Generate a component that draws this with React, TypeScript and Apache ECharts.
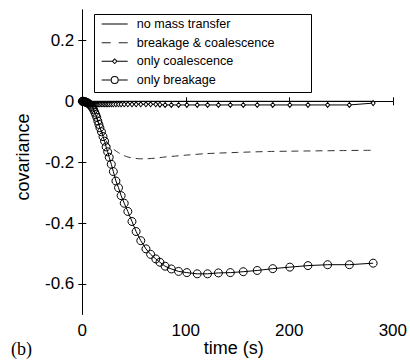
import React, { useEffect, useRef } from "react";
import * as echarts from "echarts";

// time grid shared by the "only" runs (s)
const timeGrid = [0, 0.5, 1, 1.5, 2, 2.5, 3, 3.5, 4, 5, 6, 7, 8, 9, 10, 11, 12, 13, 14, 15, 16, 17, 18.5, 20, 21.5, 23, 24.5, 26, 28, 30, 32.5, 35, 37.5, 40.5, 44, 48, 52, 56.5, 61.5, 66, 71, 75, 80, 86, 93, 101, 111, 121, 131.5, 143, 155.5, 169, 184, 200.5, 218, 237, 258, 281];

const onlyBreakage = [0, 0, 0, -0.001, -0.001, -0.002, -0.002, -0.003, -0.004, -0.005, -0.007, -0.01, -0.013, -0.017, -0.022, -0.028, -0.036, -0.044, -0.053, -0.065, -0.076, -0.087, -0.1, -0.116, -0.131, -0.15, -0.166, -0.184, -0.207, -0.231, -0.262, -0.284, -0.31, -0.335, -0.362, -0.395, -0.428, -0.458, -0.485, -0.503, -0.518, -0.529, -0.542, -0.551, -0.559, -0.563, -0.567, -0.567, -0.564, -0.563, -0.56, -0.556, -0.55, -0.545, -0.54, -0.537, -0.537, -0.532];

const onlyCoalescence = [0, -0.001, -0.002, -0.003, -0.004, -0.005, -0.006, -0.006, -0.007, -0.008, -0.008, -0.009, -0.009, -0.009, -0.01, -0.01, -0.01, -0.01, -0.01, -0.01, -0.01, -0.01, -0.01, -0.01, -0.01, -0.01, -0.01, -0.01, -0.01, -0.01, -0.01, -0.01, -0.01, -0.01, -0.01, -0.01, -0.01, -0.01, -0.01, -0.01, -0.01, -0.011, -0.012, -0.012, -0.012, -0.012, -0.012, -0.012, -0.012, -0.012, -0.012, -0.012, -0.012, -0.012, -0.012, -0.012, -0.012, -0.006];

const bcTime = [0, 5, 10, 15, 20, 25, 30, 35, 40, 45, 50, 55, 60, 70, 80, 90, 100, 120, 150, 180, 200, 250, 281];
const bcValues = [0, -0.005, -0.022, -0.065, -0.11, -0.14, -0.157, -0.169, -0.178, -0.184, -0.187, -0.189, -0.189, -0.187, -0.183, -0.18, -0.177, -0.172, -0.168, -0.165, -0.164, -0.162, -0.161];

const nmtTime = [0, 281];
const nmtValues = [0, 0];

const yTicks = [0.2, 0, -0.2, -0.4, -0.6];
const xTicks = [0, 100, 200, 300];

const legendNames = ["no mass transfer", "breakage & coalescence", "only coalescence", "only breakage"];

const FONT = "'Liberation Sans', Arial, Helvetica, sans-serif";

// legend icons (26 x 10 box): bounding dots at y=0 and y=10 keep the 1px strokes from being stretched
const BOUNDS = "M0,0h0.01v0.01h-0.01zM0,10h0.01v0.01h-0.01z";
const SOLID_ICON = "path://M0,4.5h26v1h-26z" + BOUNDS;
const DASHED_ICON = "path://M0,4.5h9v1h-9zM17,4.5h9v1h-9z" + BOUNDS;
const DIAMOND_ICON = "path://M0,4.5h10.5v1h-10.5zM15.5,4.5h10.5v1h-10.5zM13,2L16,5L13,8L10,5zM13,3.4L11.4,5L13,6.6L14.6,5z" + BOUNDS;
const CIRCLE_ICON = "path://M0,4.5h9v1h-9zM17,4.5h9v1h-9zM9,5A4,4 0 1,1 17,5A4,4 0 1,1 9,5zM10,5A3,3 0 1,0 16,5A3,3 0 1,0 10,5z" + BOUNDS;

const zip = (xs: number[], ys: number[]) => xs.map((x, i) => [x, ys[i]]);

export default function App() {
  const ref = useRef<HTMLDivElement>(null);
  useEffect(() => {
    if (!ref.current) return;
    const chart = echarts.init(ref.current, null, { renderer: "svg" });
    const axisLine = { show: true, lineStyle: { color: "#000", width: 1 } };
    const iconStyle = { color: "#000", borderWidth: 0 };
    chart.setOption({
      animation: false,
      backgroundColor: "#fff",
      grid: { left: 82.3, right: 13.3, top: 10, bottom: 47.7, containLabel: false },
      xAxis: [
        {
          type: "value", min: 0, max: 300, interval: 100, position: "bottom",
          axisLine, splitLine: { show: false },
          axisTick: { show: true, inside: true, length: 4, lineStyle: { color: "#000" } },
          axisLabel: { color: "#000", fontSize: 17, fontFamily: FONT, margin: 8, formatter: (v: number) => (xTicks.includes(v) ? String(v) : "") },
        },
        {
          type: "value", min: 0, max: 300, interval: 100, position: "top",
          axisLine, splitLine: { show: false },
          axisTick: { show: true, inside: true, length: 4, lineStyle: { color: "#000" } },
          axisLabel: { show: false },
        },
      ],
      yAxis: [
        {
          type: "value", min: -0.7, max: 0.3, position: "left",
          axisLine, splitLine: { show: false },
          axisTick: { show: true, inside: true, length: 4, customValues: yTicks, lineStyle: { color: "#000" } },
          axisLabel: { color: "#000", fontSize: 17, fontFamily: FONT, margin: 8, customValues: yTicks, formatter: (v: number) => String(Math.round(v * 10) / 10) },
        },
        {
          type: "value", min: -0.7, max: 0.3, position: "right",
          axisLine, splitLine: { show: false },
          axisTick: { show: true, inside: true, length: 4, customValues: yTicks, lineStyle: { color: "#000" } },
          axisLabel: { show: false },
        },
      ],
      legend: {
        show: true, orient: "vertical", left: 101.7, top: 17, padding: 0,
        itemWidth: 26, itemHeight: 10, itemGap: 4.67, selectedMode: false,
        data: [
          { name: legendNames[0], icon: SOLID_ICON, itemStyle: iconStyle },
          { name: legendNames[1], icon: DASHED_ICON, itemStyle: { color: "#222", borderWidth: 0 } },
          { name: legendNames[2], icon: DIAMOND_ICON, itemStyle: iconStyle },
          { name: legendNames[3], icon: CIRCLE_ICON, itemStyle: iconStyle },
        ],
        textStyle: { color: "#000", fontSize: 12.6, fontFamily: FONT, lineHeight: 14, padding: [0, 0, 0, 4] },
        z: 20,
      },
      graphic: [
        { type: "rect", z: 10, shape: { x: 94.5, y: 14.5, width: 217, height: 78 }, style: { fill: "#fff", stroke: "#000", lineWidth: 1 } },
        { type: "text", z: 10, x: 233.7, y: 348, style: { text: "time (s)", fontSize: 18, fontFamily: FONT, fill: "#000", align: "center", verticalAlign: "middle" } },
        { type: "text", z: 10, x: 22.7, y: 157, rotation: Math.PI / 2, style: { text: "covariance", fontSize: 18, fontFamily: FONT, fill: "#000", align: "center", verticalAlign: "middle" } },
        { type: "text", z: 10, x: 11, y: 349, style: { text: "(b)", fontSize: 18, fontFamily: "'Liberation Serif', 'Times New Roman', serif", fill: "#000", align: "left", verticalAlign: "middle" } },
      ],
      series: [
        {
          name: legendNames[0], type: "line", data: zip(nmtTime, nmtValues), showSymbol: false, symbol: "none",
          lineStyle: { color: "#000", width: 1 }, itemStyle: { color: "#000" }, z: 2,
        },
        {
          name: legendNames[1], type: "line", data: zip(bcTime, bcValues), showSymbol: false, symbol: "none", smooth: 0.3,
          lineStyle: { color: "#333", width: 1, type: [7, 5] }, itemStyle: { color: "#333" }, z: 2,
        },
        {
          name: legendNames[2], type: "line", data: zip(timeGrid, onlyCoalescence), symbol: "diamond", symbolSize: [4, 5], showAllSymbol: true,
          lineStyle: { color: "#000", width: 1 }, itemStyle: { color: "#fff", borderColor: "#000", borderWidth: 1 }, z: 3,
        },
        {
          name: legendNames[3], type: "line", data: zip(timeGrid, onlyBreakage), symbol: "circle", symbolSize: 8, showAllSymbol: true,
          lineStyle: { color: "#000", width: 1 }, itemStyle: { color: "rgba(255,255,255,0)", borderColor: "#000", borderWidth: 1 }, z: 4,
        },
      ],
    });
    return () => chart.dispose();
  }, []);
  return <div ref={ref} style={{ position: "fixed", left: 0, top: 0, width: 410, height: 362 }} />;
}
